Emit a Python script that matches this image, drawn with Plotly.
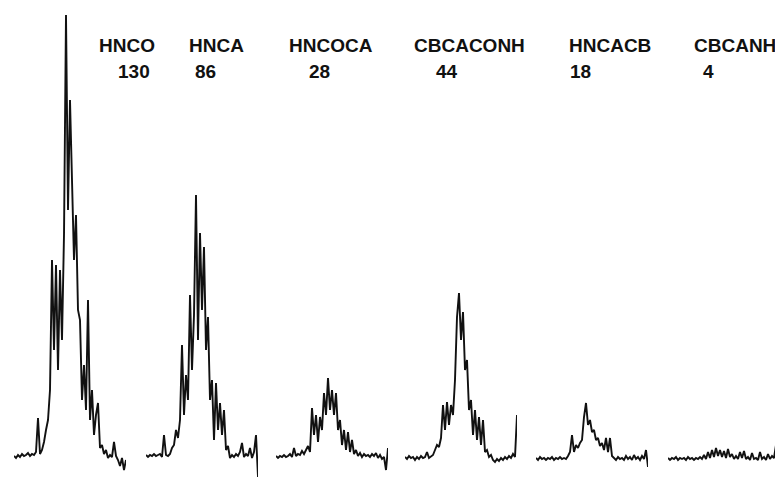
import plotly.graph_objects as go

# Experiment names and counts (labels above each trace)
experiments = ["HNCO", "HNCA", "HNCOCA", "CBCACONH", "HNCACB", "CBCANH"]
counts = ["130", "86", "28", "44", "18", "4"]

hnco = [4, 2, 5, 3, 6, 4, 5, 7, 4, 6, 5, 8, 42, 6, 10, 18, 30, 40, 70, 200,
        110, 195, 90, 190, 120, 225, 445, 250, 360, 270, 200, 245, 150, 140, 60, 95,
        50, 160, 40, 70, 25, 45, 57, 12, 15, 6, 10, 2, 5, 3, 18, 4, 0, -6, 2, -10, 0]
hnca = [5, 3, 5, 4, 6, 4, 5, 6, 3, 25, 5, 4, 6, 12, 15, 30, 22, 40, 115, 45,
        85, 60, 165, 90, 145, 265, 120, 227, 150, 213, 110, 143, 60, 80, 20, 77,
        30, 57, 25, 50, 10, 14, 2, 5, 3, 6, 4, 8, 17, 3, 6, 4, 12, 2, 8, 25, -17]
hncoca = [4, 2, 4, 3, 5, 3, 4, 6, 3, 12, 4, 6, 5, 9, 6, 10, 14, 8, 52, 25,
          45, 18, 43, 30, 67, 45, 82, 50, 70, 45, 67, 30, 40, 15, 30, 10,
          28, 8, 20, 6, 10, 4, 7, 3, 6, 4, 5, 3, 6, 4, 7, 2, 5, 1, 3, -10, 12]
cbcaconh = [3, 1, 4, 2, 3, 0, 3, 1, 4, 2, 3, 8, 2, 4, 5, 10, 15, 13, 22, 55,
            30, 58, 35, 55, 45, 80, 143, 167, 120, 148, 90, 100, 50, 60, 25, 50,
            20, 43, 15, 40, 8, 10, 3, 5, 0, -2, 1, -1, 2, 0, 3, 1, 4, 2, 6, 3, 45]
hncacb = [2, 0, 3, 1, 2, 0, 2, 1, 3, 0, 2, 1, 3, 1, 2, 1, 4, 8, 25, 8,
          15, 12, 17, 20, 43, 57, 35, 40, 28, 30, 20, 22, 14, 17, 10, 22,
          8, 22, 4, 2, 0, 3, 1, 2, 0, 4, 1, 3, 0, 5, 1, 3, 0, 4, 1, 10, -7]
cbcanh = [2, 0, 2, 1, 3, 0, 2, 1, 2, 0, 3, 1, 2, 0, 2, 1, 3, 1, 5, 1,
          8, 2, 10, 3, 12, 4, 10, 3, 9, 2, 11, 3, 6, 1, 4, 1,
          8, 2, 9, 1, 3, 0, 7, 1, 2, 0, 8, 1, 3, 0, 6, 1, 4, 2, 15, -13, 0]

series = [hnco, hnca, hncoca, cbcaconh, hncacb, cbcanh]

# The page body has an 8px margin, so the figure is placed at (8, 8)
OFF = 8
W, H = 783 - OFF, 479 - OFF
panel_left = [14, 146, 276, 405, 536, 668]
panel_width = 112
label_left = [97, 187, 287, 412, 567, 692]
count_left = [116, 193, 307, 434, 568, 701]

fig = go.Figure()
layout = dict(
    width=W, height=H,
    margin=dict(l=0, r=0, t=0, b=0, pad=0),
    paper_bgcolor="white", plot_bgcolor="white",
    showlegend=False,
    yaxis=dict(range=[-19, 460 - OFF], visible=False, fixedrange=True),
)
annotations = []
for k, vals in enumerate(series):
    ax = "" if k == 0 else str(k + 1)
    channels = list(range(len(vals)))
    fig.add_trace(go.Scatter(
        x=channels, y=vals, mode="lines",
        line=dict(color="#111111", width=1.9),
        xaxis="x" + ax, yaxis="y", hoverinfo="skip",
    ))
    layout["xaxis" + ax] = dict(
        domain=[(panel_left[k] - OFF) / W, (panel_left[k] - OFF + panel_width) / W],
        range=[0, len(vals) - 1], visible=False, anchor="y",
    )
    annotations.append(dict(
        text="<b>" + experiments[k] + "</b>", xref="paper", yref="paper",
        x=(label_left[k] - OFF) / W, y=1 - (46 - OFF) / H,
        xanchor="left", yanchor="middle",
        showarrow=False, font=dict(family="Liberation Sans", size=19, color="#111"),
    ))
    annotations.append(dict(
        text="<b>" + counts[k] + "</b>", xref="paper", yref="paper",
        x=(count_left[k] - OFF) / W, y=1 - (72 - OFF) / H,
        xanchor="left", yanchor="middle",
        showarrow=False, font=dict(family="Liberation Sans", size=19, color="#111"),
    ))
layout["annotations"] = annotations
fig.update_layout(**layout)
fig.write_html("out.html")
